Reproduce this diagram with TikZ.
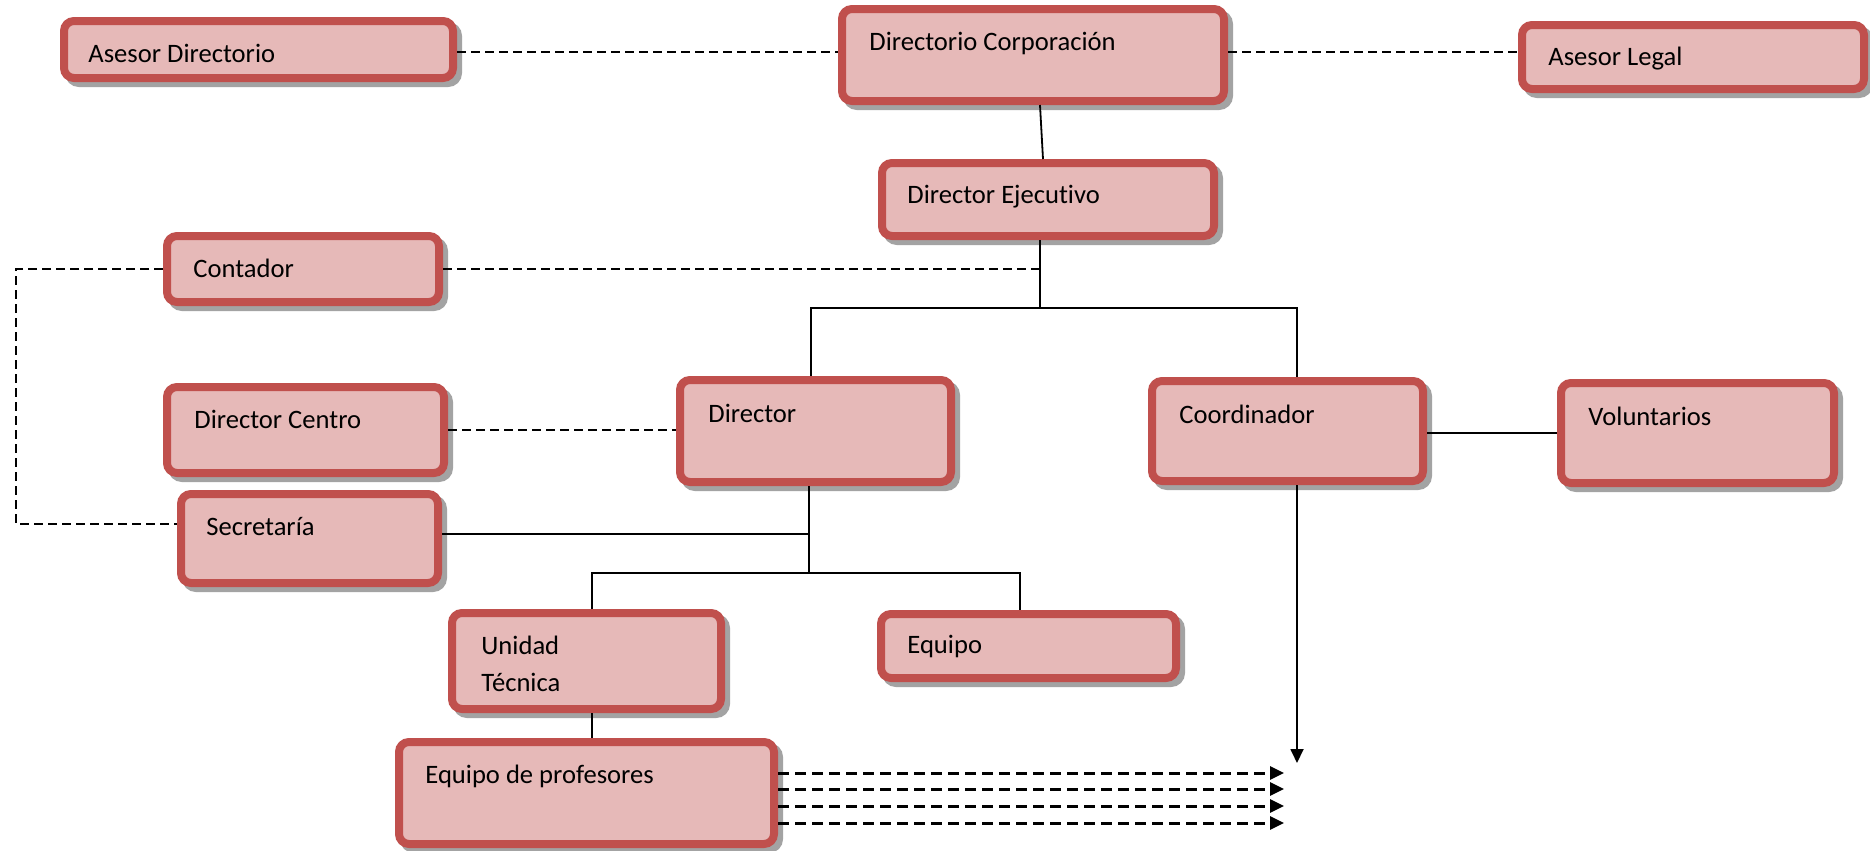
\documentclass[tikz,border=0pt]{standalone}
\usepackage{fontspec}
\setmainfont{Carlito}[Ligatures=NoCommon]
\usetikzlibrary{arrows.meta,calc,shadows}
\definecolor{boxfill}{HTML}{E6B9B8}
\definecolor{boxline}{HTML}{C0504D}
\definecolor{shadowgray}{HTML}{A3A3A3}
\tikzset{
  orgbox/.style={draw=boxline, fill=boxfill, line width=4pt, rounded corners=5pt, inner sep=0pt,
    drop shadow={shadow xshift=2.5pt, shadow yshift=-2.5pt, fill=shadowgray, draw=shadowgray, line width=4pt, opacity=1}},
  orgtext/.style={anchor=base west, inner sep=0pt, font=\fontsize{13.3}{18.5}\selectfont},
  solidline/.style={line width=0.9pt},
  thindash/.style={line width=0.8pt, dash pattern=on 4.5pt off 2.5pt},
  arrowdash/.style={line width=1.5pt, dash pattern=on 5.5pt off 3pt, -{Triangle[length=7pt,width=6.5pt]}},
  arrowsolid/.style={line width=0.9pt, -{Triangle[length=7pt,width=6.5pt]}},
}
\newcommand{\orgnode}[8]{%
  \node[orgbox, minimum width={(#4-#2)*0.5pt-4pt}, minimum height={(#5-#3)*0.5pt-4pt}] (#1) at ({(#2+#4)/2},{(#3+#5)/2}) {};
  \node[orgtext] (#1t) at ($(#1.north west)+(#6,#7)$) {#8};}
\begin{document}
\begin{tikzpicture}[x=0.5pt,y=-0.5pt]
\fill[white] (0,0) rectangle (1870,851);
\useasboundingbox (0,0) rectangle (1870,851);
% boxes
\orgnode{ad}{60}{17}{457}{82}{28}{45}{Asesor Directorio}
\orgnode{dc}{838}{5}{1228}{105}{31}{45}{Directorio Corporación}
\orgnode{al}{1518}{21}{1868}{93}{30}{44}{Asesor Legal}
\orgnode{de}{878}{159}{1218}{240}{29}{44}{Director Ejecutivo}
\orgnode{co}{163}{232}{443}{306}{30}{45}{Contador}
\orgnode{dcen}{163}{383}{448}{477}{31}{45}{Director Centro}
\orgnode{se}{177}{490}{442}{587}{29}{45}{Secretaría}
\orgnode{di}{676}{376}{955}{486}{32}{46}{Director}
\orgnode{cd}{1148}{377}{1427}{485}{31}{46}{Coordinador}
\orgnode{vo}{1557}{379}{1838}{487}{31}{46}{Voluntarios}
\orgnode{ut}{448}{609}{725}{713}{33}{45}{\begin{tabular}[t]{@{}l@{}}Unidad\\Técnica\end{tabular}}
\orgnode{eq}{877}{610}{1180}{682}{30}{43}{Equipo}
\orgnode{ep}{395}{738}{778}{848}{30}{45}{Equipo de profesores}
% helper coordinates
\coordinate (hA) at (0,52);
\coordinate (hB) at (0,308);
\coordinate (hS) at (0,524);
\coordinate (hE) at (0,534);
\coordinate (hF) at (0,573);
\coordinate (hG) at (0,433);
\coordinate (vDE) at (1040,0);
\coordinate (vL) at (16,0);
\coordinate (vDI) at (811,0);
\coordinate (vCD) at (1297,0);
\coordinate (vD2) at (809,0);
\coordinate (vUT) at (592,0);
\coordinate (vEQ) at (1020,0);
\coordinate (cdEnd) at (1297,763);
% connectors
\draw[thindash] (ad.east |- hA) -- (dc.west |- hA);
\draw[thindash] (dc.east |- hA) -- (al.west |- hA);
\draw[solidline] ($(dc.south)+(7,0)$) -- ($(de.north)+(-5,0)$);
\draw[solidline] (de.south -| vDE) -- (vDE |- hB);
\draw[thindash] (co.east) -- (vDE |- co.east);
\draw[thindash] (co.west) -- (vL |- co.west) -- (vL |- hS) -- (se.west |- hS);
\draw[solidline] (di.north -| vDI) -- (vDI |- hB) -- (vCD |- hB) -- (cd.north -| vCD);
\draw[thindash] (dcen.east) -- (di.west |- dcen.east);
\draw[solidline] (se.east |- hE) -- (vD2 |- hE);
\draw[solidline] (di.south -| vD2) -- (vD2 |- hF);
\draw[solidline] (ut.north -| vUT) -- (vUT |- hF) -- (vEQ |- hF) -- (eq.north -| vEQ);
\draw[solidline] (ut.south -| vUT) -- (ep.north -| vUT);
\draw[solidline] (cd.east |- hG) -- (vo.west |- hG);
\draw[arrowsolid] (cd.south -| vCD) -- (cdEnd);
\foreach \yy [count=\i] in {773,789,806,823} {
  \coordinate (ae\i) at (1284,\yy);
  \draw[arrowdash] (ep.east |- ae\i) -- (ae\i);
}
\end{tikzpicture}
\end{document}
